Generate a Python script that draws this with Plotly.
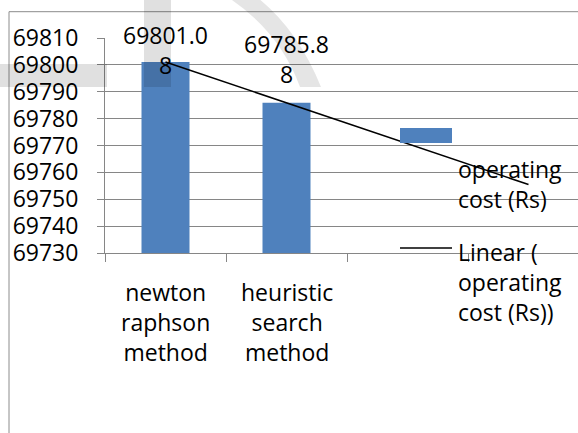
import numpy as np
import plotly.graph_objects as go

# Operating cost by load-flow solution method
methods = ["newton raphson method", "heuristic search method"]
method_lines = [["newton", "raphson", "method"], ["heuristic", "search", "method"]]
operating_cost = [69801.08, 69785.88]
series_name = "operating cost (Rs)"
trend_name = "Linear ( operating cost (Rs))"
y_ticks = [69730, 69740, 69750, 69760, 69770, 69780, 69790, 69800, 69810]

W, H = 578, 433
ML, MR, MT, MB = 105, 0, 38, 180
PW, PH = W - ML - MR, H - MT - MB
CAT_PX = 121  # width of one category slot

FONT = "Open Sans, sans-serif"
FS = 23
GRID = "#868686"
BAR = "#4f81bd"


def px(x):
    return (x - ML) / PW


def py(y):
    return (H - MB - y) / PH


xs = np.arange(len(methods))
# linear trendline fitted to the bar values, extended over four slots
coef = np.polyfit(xs, operating_cost, 1)
trend_x = np.arange(4)
trend_y = np.polyval(coef, trend_x)

fig = go.Figure()
fig.add_trace(go.Bar(x=xs, y=operating_cost, width=48 / CAT_PX, marker_color=BAR,
                     marker_line_width=0, name=series_name, showlegend=False))
fig.add_trace(go.Scatter(x=trend_x, y=trend_y, mode="lines", line=dict(color="black", width=1.5),
                         name=trend_name, showlegend=False, cliponaxis=False))

annotations = []
# value labels, wrapped after the first decimal digit
label_shift = [12, 44]
for i, v in enumerate(operating_cost):
    s = f"{v:.2f}"
    annotations.append(dict(x=xs[i], y=v, xref="x", yref="y", text=s[:-1] + "<br>" + s[-1],
                            showarrow=False, yanchor="middle", yshift=label_shift[i],
                            font=dict(family=FONT, size=FS, color="black")))
# category labels
for i, lines in enumerate(method_lines):
    annotations.append(dict(x=xs[i], y=py(322), xref="x", yref="paper", text="<br>".join(lines),
                            showarrow=False, yanchor="middle",
                            font=dict(family=FONT, size=FS, color="black")))
# legend text
annotations.append(dict(x=px(456), y=py(184), xref="paper", yref="paper",
                        text="operating<br>cost (Rs)", showarrow=False, xanchor="left",
                        yanchor="middle", align="left",
                        font=dict(family=FONT, size=FS, color="black")))
annotations.append(dict(x=px(456), y=py(282), xref="paper", yref="paper",
                        text="Linear (<br>operating<br>cost (Rs))", showarrow=False,
                        xanchor="left", yanchor="middle", align="left",
                        font=dict(family=FONT, size=FS, color="black")))

shapes = [
    # chart frame
    dict(type="line", xref="paper", yref="paper", x0=px(9), x1=px(W + 5), y0=py(11.7), y1=py(11.7),
         line=dict(color="#8c8c8c", width=1)),
    dict(type="line", xref="paper", yref="paper", x0=px(9), x1=px(9), y0=py(11.7), y1=py(H + 5),
         line=dict(color="#8c8c8c", width=1)),
    # legend keys
    dict(type="rect", xref="paper", yref="paper", x0=px(400), x1=px(452), y0=py(128), y1=py(143),
         fillcolor=BAR, line=dict(width=0)),
    dict(type="line", xref="paper", yref="paper", x0=px(400), x1=px(452), y0=py(248), y1=py(248),
         line=dict(color="black", width=1.5)),
    # faint watermark strokes
    dict(type="rect", xref="paper", yref="paper", x0=px(-2), x1=px(107), y0=py(64), y1=py(87),
         fillcolor="rgba(0,0,0,0.12)", line=dict(width=0), layer="above"),
    dict(type="rect", xref="paper", yref="paper", x0=px(144), x1=px(171), y0=py(-2), y1=py(87),
         fillcolor="rgba(0,0,0,0.12)", line=dict(width=0), layer="above"),
    dict(type="path", xref="paper", yref="paper", layer="above",
         path=(f"M {px(229)} {py(-2)} L {px(258)} {py(-2)} "
               f"Q {px(298)} {py(30)} {px(321)} {py(87)} L {px(300)} {py(87)} "
               f"Q {px(280)} {py(32)} {px(229)} {py(-2)} Z"),
         fillcolor="rgba(0,0,0,0.10)", line=dict(width=0)),
]

fig.update_layout(
    width=W, height=H,
    margin=dict(l=ML, r=MR, t=MT, b=MB, pad=0),
    paper_bgcolor="white", plot_bgcolor="white",
    font=dict(family=FONT, size=FS, color="black"),
    showlegend=False,
    annotations=annotations,
    shapes=shapes,
    xaxis=dict(range=[-0.5, -0.5 + PW / CAT_PX], showgrid=False, zeroline=False,
               showline=True, linecolor=GRID, linewidth=1,
               tickmode="array", tickvals=[], showticklabels=False,
               minor=dict(tickmode="array", tickvals=[-0.5, 0.5, 1.5, 2.5], ticks="outside",
                          ticklen=8, tickcolor=GRID, tickwidth=1, showgrid=False)),
    yaxis=dict(range=[y_ticks[0], y_ticks[-1]], tickmode="array", tickvals=y_ticks,
               ticktext=[str(t) for t in y_ticks], showgrid=True, gridcolor=GRID, gridwidth=1,
               zeroline=False, showline=True, linecolor=GRID, linewidth=1,
               ticks="outside", ticklen=7, tickcolor=GRID, ticklabelstandoff=14,
               tickfont=dict(family=FONT, size=FS, color="black")),
)

fig.write_html("out.html")
